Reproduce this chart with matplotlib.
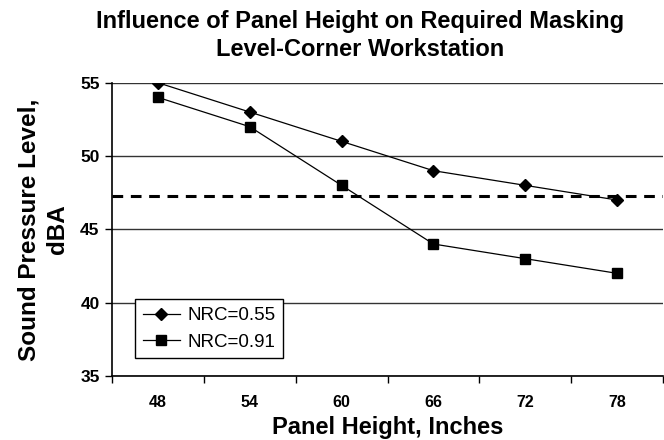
import matplotlib
matplotlib.use("Agg")
import matplotlib.pyplot as plt
from matplotlib.ticker import FixedLocator

plt.rcParams['font.family'] = ['Liberation Sans', 'DejaVu Sans']

# data
heights = ["48", "54", "60", "66", "72", "78"]
nrc_055 = [55, 53, 51, 49, 48, 47]
nrc_091 = [54, 52, 48, 44, 43, 42]
masking_level = 47.3

fig = plt.figure(figsize=(6.64, 4.4), dpi=100)
ax = fig.add_axes([0.1687, 0.1455, 0.8298, 0.6665])

ax.plot(heights, nrc_055, color="black", lw=0.9, marker="D", ms=6,
        label="NRC=0.55", zorder=3)
ax.plot(heights, nrc_091, color="black", lw=0.9, marker="s", ms=6.5,
        label="NRC=0.91", zorder=3)
ax.axhline(masking_level, color="black", lw=2.2, ls=(0, (3.5, 2.5)), zorder=2)

ax.set_xlim(-0.5, len(heights) - 0.5)
ax.set_ylim(35, 55)
ax.set_yticks([35, 40, 45, 50, 55])
ax.yaxis.grid(True, color="#333333", lw=1)
ax.set_axisbelow(True)

# category ticks between labels
ax.xaxis.set_minor_locator(FixedLocator([i - 0.5 for i in range(len(heights) + 1)]))
ax.tick_params(axis="x", which="major", length=0, pad=14)
ax.tick_params(axis="x", which="minor", length=5, width=1)
ax.tick_params(axis="y", length=5, width=1, pad=4)
for lab in ax.get_xticklabels():
    lab.set_fontweight("bold")
    lab.set_fontsize(11.5)
for lab in ax.get_yticklabels():
    lab.set_fontweight("bold")
    lab.set_fontsize(12.5)

for s in ["top", "right"]:
    ax.spines[s].set_visible(False)
ax.spines["left"].set_linewidth(1.2)
ax.spines["bottom"].set_linewidth(1.2)

ax.set_xlabel("Panel Height, Inches", fontsize=17, fontweight="bold", labelpad=4)
ax.set_ylabel("Sound Pressure Level,\ndBA", fontsize=17.5, fontweight="bold",
              labelpad=8, linespacing=1.3)
fig.suptitle("Influence of Panel Height on Required Masking\nLevel-Corner Workstation",
             x=0.543, y=0.978, fontsize=17, fontweight="bold", linespacing=1.32)

leg = ax.legend(loc="lower left", bbox_to_anchor=(0.042, 0.061), borderaxespad=0,
                fancybox=False, edgecolor="black", fontsize=13.5, handlelength=2.0,
                handletextpad=0.4, borderpad=0.4, labelspacing=0.5, framealpha=1)
leg.get_frame().set_linewidth(1)

fig.savefig("out.png", dpi=100)
